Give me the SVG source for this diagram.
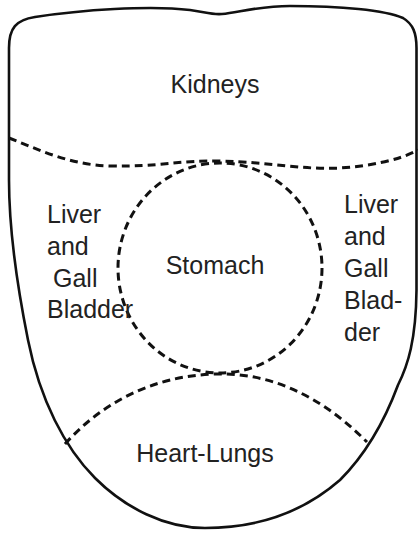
<svg xmlns="http://www.w3.org/2000/svg" width="418" height="533" viewBox="0 0 418 533">
<style>
.outline{fill:none;stroke:#111;stroke-width:2.6;stroke-linejoin:round}
.dash{fill:none;stroke:#111;stroke-width:3;stroke-dasharray:8 5}
text{font-family:"Liberation Sans",Arial,sans-serif;font-size:25px;fill:#222}
.c{text-anchor:middle}
</style>
<rect width="418" height="533" fill="#fff"/>
<g id="tongue">
<path class="outline" d="M 9,48 C 9,28 16,20 35,17 C 80,10 150,5 190,10 C 205,12 212,15 222,14 C 240,12 260,6 290,6 C 340,6 385,10 403,18 C 413,24 416.5,33 416.5,48 L 416.5,290 C 416,340 408,365 398,385 C 385,420 365,455 340,480 C 300,515 255,528 205,528 C 165,528 125,508 95,478 C 65,448 40,400 28,340 C 18,290 9,230 9,180 Z"/>
</g>
<g id="connectors">
<path class="dash" d="M 9,138 C 40,150 70,165 110,166 C 160,167 180,160 220,161 C 270,162 300,170 340,168 C 370,166 400,160 418,150"/>
<ellipse class="dash" cx="220" cy="268" rx="102" ry="105"/>
<path class="dash" d="M 65,444 C 100,405 150,376 215,374 C 280,372 330,405 367,442"/>
</g>
<g id="kidneys"><text class="c" x="215" y="93">Kidneys</text></g>
<g id="stomach"><text class="c" x="215" y="274">Stomach</text></g>
<g id="liver-left">
<text x="47" y="223">Liver</text>
<text x="47" y="255">and</text>
<text x="53" y="287">Gall</text>
<text x="47" y="318">Bladder</text>
</g>
<g id="liver-right">
<text x="344" y="213">Liver</text>
<text x="344" y="245">and</text>
<text x="344" y="277">Gall</text>
<text x="344" y="309">Blad-</text>
<text x="344" y="341">der</text>
</g>
<g id="heart-lungs"><text class="c" x="205" y="462">Heart-Lungs</text></g>
</svg>
